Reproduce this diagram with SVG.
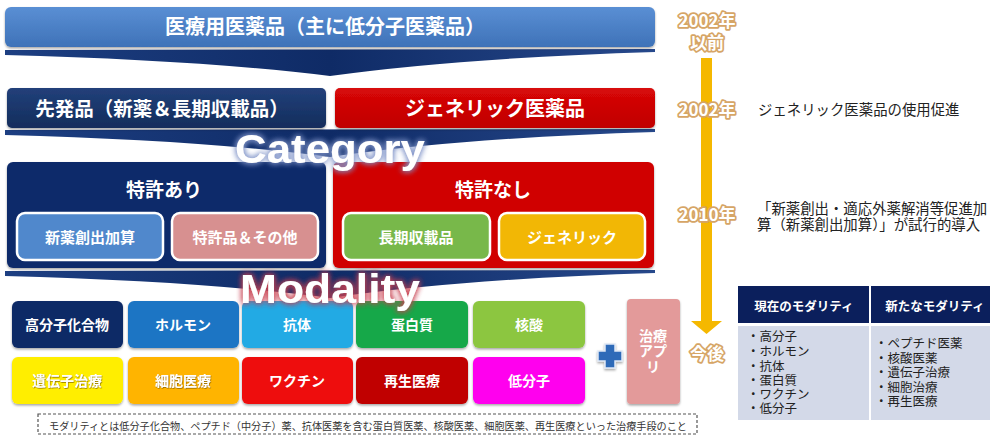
<svg xmlns="http://www.w3.org/2000/svg" width="990" height="437" viewBox="0 0 990 437">
<defs>
<linearGradient id="gTop" x1="0" y1="0" x2="0" y2="1"><stop offset="0" stop-color="#5a8fd4"/><stop offset="1" stop-color="#3e72b8"/></linearGradient>
<linearGradient id="gNavy" x1="0" y1="0" x2="0" y2="1"><stop offset="0" stop-color="#22407a"/><stop offset="1" stop-color="#132d5c"/></linearGradient>
<linearGradient id="gRed" x1="0" y1="0" x2="0" y2="1"><stop offset="0" stop-color="#d80808"/><stop offset="1" stop-color="#c00000"/></linearGradient>
<linearGradient id="gChev" x1="0" y1="0" x2="1" y2="0"><stop offset="0" stop-color="#1d3f82"/><stop offset="0.5" stop-color="#0f2b66"/><stop offset="1" stop-color="#27498c"/></linearGradient>
<filter id="glowB" x="-20%" y="-40%" width="140%" height="180%"><feGaussianBlur in="SourceAlpha" stdDeviation="3" result="b"/><feFlood flood-color="#7f93c8"/><feComposite in2="b" operator="in"/><feMerge><feMergeNode/><feMergeNode/><feMergeNode in="SourceGraphic"/></feMerge></filter>
<filter id="glowR" x="-20%" y="-40%" width="140%" height="180%"><feGaussianBlur in="SourceAlpha" stdDeviation="3" result="b"/><feFlood flood-color="#c84050"/><feComposite in2="b" operator="in"/><feMerge><feMergeNode/><feMergeNode/><feMergeNode in="SourceGraphic"/></feMerge></filter>
<filter id="sh" x="-10%" y="-10%" width="120%" height="130%"><feDropShadow dx="0" dy="1.5" stdDeviation="1.2" flood-color="#000" flood-opacity="0.35"/></filter>
<filter id="tsh" x="-10%" y="-20%" width="120%" height="140%"><feDropShadow dx="0.6" dy="0.8" stdDeviation="0.6" flood-color="#7a5a00" flood-opacity="0.8"/></filter>
</defs>
<style>
.j{font-family:"Noto Sans CJK JP","Noto Sans",sans-serif;}
.w{fill:#fff;font-weight:700;text-anchor:middle;dominant-baseline:central;font-family:"Noto Sans CJK JP","Noto Sans",sans-serif;}
.yr{fill:#fff;stroke:#d6a566;stroke-width:3.5;paint-order:stroke;stroke-linejoin:round;font-weight:700;font-size:17px;text-anchor:middle;dominant-baseline:central;font-family:"Noto Sans CJK JP","Noto Sans",sans-serif;}
.big{fill:#fff;font-weight:700;font-size:40px;text-anchor:middle;font-family:"Liberation Sans","Noto Sans",sans-serif;}
.note{fill:#222;font-size:14.4px;dominant-baseline:central;font-family:"Noto Sans CJK JP","Noto Sans",sans-serif;}
.li{fill:#222;font-size:12.5px;dominant-baseline:central;font-family:"Noto Sans CJK JP","Noto Sans",sans-serif;}
.ib{stroke:#fff;stroke-width:2.5;}
</style>
<rect width="990" height="437" fill="#fff"/>

<g id="chevrons">
<path d="M5,50 L655,49 L655,52 Q460,58 330,76 Q200,60 5,55 Z" fill="url(#gChev)"/>
<path d="M5,130 L655,129 L655,132 Q460,138 330,157 Q200,140 5,135 Z" fill="url(#gChev)"/>
<path d="M5,271 L655,270 L655,273 Q460,279 330,298 Q200,281 5,276 Z" fill="url(#gChev)"/>
</g>

<g id="top">
<rect x="5" y="7" width="650" height="40" rx="6" fill="url(#gTop)" filter="url(#sh)"/>
<text class="w" x="325" y="25" font-size="20">医療用医薬品（主に低分子医薬品）</text>
</g>

<g id="senpatsu">
<rect x="7" y="88" width="319" height="40" rx="5" fill="url(#gNavy)" filter="url(#sh)"/>
<text class="w" x="162" y="107" font-size="19.5">先発品（新薬＆長期収載品）</text>
</g>
<g id="generic">
<rect x="335" y="88" width="320" height="40" rx="5" fill="url(#gRed)" filter="url(#sh)"/>
<text class="w" x="495" y="107" font-size="20">ジェネリック医薬品</text>
</g>

<g id="tokkyo-ari">
<rect x="7" y="162" width="319" height="106" rx="6" fill="#0c2b6b" filter="url(#sh)"/>
<text class="w" x="164" y="188" font-size="19">特許あり</text>
</g>
<g id="shinyaku">
<rect class="ib" x="17" y="213" width="146" height="47" rx="8" fill="#5088cc"/>
<text class="w" x="90" y="236" font-size="15">新薬創出加算</text>
</g>
<g id="tokkyohin">
<rect class="ib" x="172" y="213" width="146" height="47" rx="8" fill="#d79090"/>
<text class="w" x="245" y="236" font-size="15">特許品＆その他</text>
</g>
<g id="tokkyo-nashi">
<rect x="333" y="162" width="321" height="106" rx="6" fill="#d00000" filter="url(#sh)"/>
<text class="w" x="493" y="188" font-size="19">特許なし</text>
</g>
<g id="choki">
<rect class="ib" x="343" y="213" width="147" height="47" rx="8" fill="#78b84a"/>
<text class="w" x="416" y="236" font-size="15">長期収載品</text>
</g>
<g id="generic2">
<rect class="ib" x="499" y="213" width="146" height="47" rx="8" fill="#f2b705"/>
<text class="w" x="572" y="236" font-size="15">ジェネリック</text>
</g>

<g id="category">
<text class="big" x="330" y="163" textLength="190" lengthAdjust="spacingAndGlyphs" filter="url(#glowB)">Category</text>
</g>

<g id="modality-row1">
<g id="m1"><rect x="12" y="301" width="111" height="47" rx="6" fill="#0d2a66" filter="url(#sh)"/><text class="w" x="67" y="324" font-size="14">高分子化合物</text></g>
<g id="m2"><rect x="128" y="301" width="111" height="47" rx="6" fill="#1f74c4" filter="url(#sh)"/><text class="w" x="183" y="324" font-size="14">ホルモン</text></g>
<g id="m3"><rect x="242" y="301" width="111" height="47" rx="6" fill="#22aae4" filter="url(#sh)"/><text class="w" x="297" y="324" font-size="14">抗体</text></g>
<g id="m4"><rect x="356" y="301" width="112" height="47" rx="6" fill="#14a848" filter="url(#sh)"/><text class="w" x="412" y="324" font-size="14">蛋白質</text></g>
<g id="m5"><rect x="473" y="301" width="112" height="47" rx="6" fill="#8cc63f" filter="url(#sh)"/><text class="w" x="529" y="324" font-size="14">核酸</text></g>
</g>

<g id="modality">
<text class="big" x="330" y="303" textLength="180" lengthAdjust="spacingAndGlyphs" filter="url(#glowR)">Modality</text>
</g>

<g id="modality-row2">
<g id="m6"><rect x="12" y="357" width="111" height="47" rx="6" fill="#ffee00" filter="url(#sh)"/><text class="w" x="67" y="380" font-size="14" filter="url(#tsh)">遺伝子治療</text></g>
<g id="m7"><rect x="128" y="357" width="111" height="47" rx="6" fill="#ffb400" filter="url(#sh)"/><text class="w" x="183" y="380" font-size="14" filter="url(#tsh)">細胞医療</text></g>
<g id="m8"><rect x="242" y="357" width="111" height="47" rx="6" fill="#ee1010" filter="url(#sh)"/><text class="w" x="297" y="380" font-size="14">ワクチン</text></g>
<g id="m9"><rect x="356" y="357" width="112" height="47" rx="6" fill="#c00000" filter="url(#sh)"/><text class="w" x="412" y="380" font-size="14">再生医療</text></g>
<g id="m10"><rect x="473" y="357" width="112" height="47" rx="6" fill="#ff00ee" filter="url(#sh)"/><text class="w" x="529" y="380" font-size="14">低分子</text></g>
</g>

<g id="plus">
<path d="M605,344 h10 v7 h7 v10 h-7 v7 h-10 v-7 h-7 v-10 h7 Z" fill="#2f6ab8" stroke="#dfe8f5" stroke-width="1.5" filter="url(#sh)"/>
</g>

<g id="app">
<rect x="627" y="299" width="53" height="105" rx="4" fill="#e39a9a" filter="url(#sh)"/>
<text class="w" font-size="14"><tspan x="653" y="335">治療</tspan><tspan x="653" y="350">アプ</tspan><tspan x="653" y="366">リ</tspan></text>
</g>

<g id="definition">
<rect x="38" y="414" width="659" height="20" fill="#fff" stroke="#555" stroke-width="1.2" stroke-dasharray="3,2"/>
<text class="j" x="49" y="425" font-size="10.5" fill="#333" dominant-baseline="central" textLength="638" lengthAdjust="spacingAndGlyphs">モダリティとは低分子化合物、ペプチド（中分子）薬、抗体医薬を含む蛋白質医薬、核酸医薬、細胞医薬、再生医療といった治療手段のこと</text>
</g>

<g id="timeline">
<rect x="701" y="58" width="11" height="265" fill="#f5b800"/>
<path d="M691,321 L722,321 L706.5,334 Z" fill="#f5b800"/>
<text class="yr"><tspan x="707" y="19">2002年</tspan><tspan x="707" y="41">以前</tspan></text>
<text class="yr" x="707" y="108">2002年</text>
<text class="yr" x="707" y="213">2010年</text>
<text class="yr" x="707" y="352">今後</text>
</g>

<g id="notes">
<text class="note" x="758" y="108">ジェネリック医薬品の使用促進</text>
<text class="note"><tspan x="757" y="207">「新薬創出・適応外薬解消等促進加</tspan><tspan x="757" y="223">算（新薬創出加算）」が試行的導入</tspan></text>
</g>

<g id="table">
<rect x="738" y="286" width="252" height="37" fill="#0b1f5c"/>
<rect x="738" y="326" width="252" height="94" fill="#d3d9e8"/>
<line x1="870" y1="286" x2="870" y2="420" stroke="#fff" stroke-width="2"/>
<text class="w" x="804" y="305" font-size="12.5">現在のモダリティ</text>
<text class="w" x="935" y="305" font-size="12.5">新たなモダリティ</text>
<text class="li"><tspan x="747" y="335">・高分子</tspan><tspan x="747" y="350">・ホルモン</tspan><tspan x="747" y="365">・抗体</tspan><tspan x="747" y="379">・蛋白質</tspan><tspan x="747" y="393">・ワクチン</tspan><tspan x="747" y="407">・低分子</tspan></text>
<text class="li"><tspan x="875" y="342">・ペプチド医薬</tspan><tspan x="875" y="357">・核酸医薬</tspan><tspan x="875" y="371">・遺伝子治療</tspan><tspan x="875" y="386">・細胞治療</tspan><tspan x="875" y="400">・再生医療</tspan></text>
</g>
</svg>
